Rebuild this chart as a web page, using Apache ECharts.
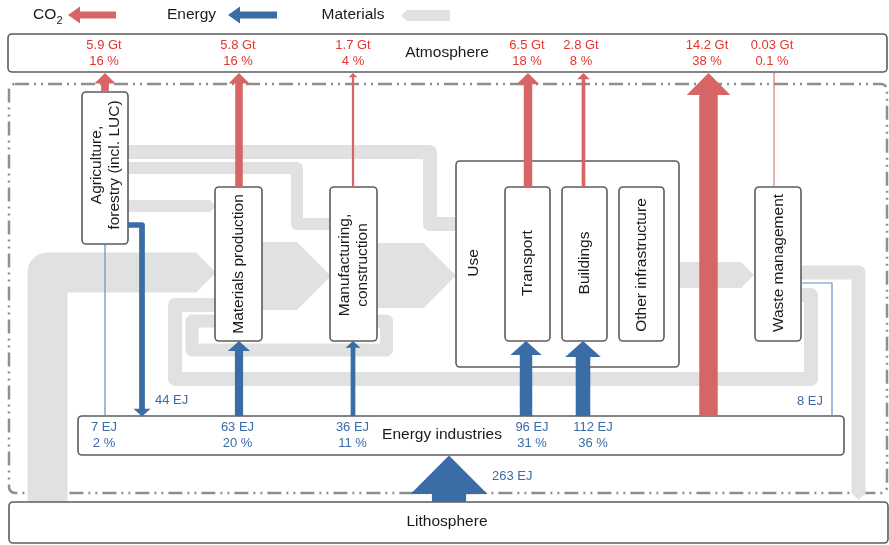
<!DOCTYPE html>
<html><head><meta charset="utf-8">
<script src="https://cdn.jsdelivr.net/npm/echarts@6/dist/echarts.min.js"></script>
<style>html,body{margin:0;padding:0;background:#fff}#c{width:889px;height:545px}</style>
</head><body><div id="c"></div>
<script>
// ---------------- data ----------------
const legendItems = ['CO2', 'Energy', 'Materials'];
const co2Sources = ['Agriculture, forestry (incl. LUC)', 'Materials production', 'Manufacturing, construction', 'Transport', 'Buildings', 'Energy industries', 'Waste management'];
const co2Gt = [5.9, 5.8, 1.7, 6.5, 2.8, 14.2, 0.03];
const co2Share = ['16 %', '16 %', '4 %', '18 %', '8 %', '38 %', '0.1 %'];
const energyTargets = ['Agriculture, forestry (incl. LUC)', 'Materials production', 'Manufacturing, construction', 'Transport', 'Buildings'];
const energyEJ = [7, 63, 36, 96, 112];
const energyShare = ['2 %', '20 %', '11 %', '31 %', '36 %'];
const energyReturnSources = ['Agriculture, forestry (incl. LUC)', 'Waste management'];
const energyReturnEJ = [44, 8];
const primaryEnergyEJ = 263;
const materialFlows = ['Lithosphere → Materials production', 'Materials production → Manufacturing, construction', 'Manufacturing, construction → Use', 'Use → Waste management', 'Waste management → Lithosphere', 'Waste management → Materials production', 'Manufacturing, construction → Materials production', 'Agriculture → Use', 'Agriculture → Manufacturing, construction', 'Agriculture → Materials production'];
const materialSize = [40, 68, 65, 26, 14, 14, 13, 14, 12, 12]; // relative magnitudes (estimated)
const nodeNames = ['Atmosphere', 'Lithosphere', 'Energy industries', 'Agriculture, forestry (incl. LUC)', 'Materials production', 'Manufacturing, construction', 'Use', 'Transport', 'Buildings', 'Other infrastructure', 'Waste management'];

// ---------------- layout & style ----------------
const FONT = '"Liberation Sans", Arial, Helvetica, sans-serif';
const COL = {red: '#d86565', blue: '#3a6ca6', blueThin: '#6090c6', grey: '#e1e1e1', redText: '#e4352f', blueText: '#3b6ba8', box: '#5c5c5c', text: '#1a1a1a'};
const BOX = {
  'Atmosphere': {r: [8, 34, 879, 38], t: 'Atmosphere', c: [447, 53], rot: 0},
  'Lithosphere': {r: [9, 502, 879, 41], t: 'Lithosphere', c: [447, 522], rot: 0},
  'Energy industries': {r: [78, 416, 766, 39], t: 'Energy industries', c: [442, 435], rot: 0},
  'Agriculture, forestry (incl. LUC)': {r: [82, 92, 46, 152], t: 'Agriculture,\nforestry (incl. LUC)', c: [106, 165], rot: 1},
  'Materials production': {r: [215, 187, 47, 154], t: 'Materials production', c: [239, 264], rot: 1},
  'Manufacturing, construction': {r: [330, 187, 47, 154], t: 'Manufacturing,\nconstruction', c: [354, 265], rot: 1},
  'Use': {r: [456, 161, 223, 206], t: 'Use', c: [474, 263], rot: 1},
  'Transport': {r: [505, 187, 45, 154], t: 'Transport', c: [528, 263], rot: 1},
  'Buildings': {r: [562, 187, 45, 154], t: 'Buildings', c: [585, 263], rot: 1},
  'Other infrastructure': {r: [619, 187, 45, 154], t: 'Other infrastructure', c: [642, 265], rot: 1},
  'Waste management': {r: [755, 187, 46, 154], t: 'Waste management', c: [779, 263], rot: 1}
};
const CO2_X = [105, 239, 353, 528, 583.5, 708.5, 774];
const CO2_TAIL = [92, 187, 187, 187, 187, 416, 187];
const CO2_LX = [104, 238, 353, 527, 581, 707, 772];
const EN_X = [105, 239, 353, 526, 583];
const EN_TIP = [244, 341, 341, 341, 341];
const EN_LX = [104, 237.5, 352.5, 532, 593];
const EXTRA = [
  {pts: [[128, 225], [142, 225], [142, 416.5]], lab: [155, 400], align: 'left', thin: false},
  {pts: [[801, 283], [832, 283], [832, 416.5]], lab: [823, 401], align: 'right', thin: true},
  {pts: [[449, 502], [449, 455.5]], lab: [492, 476], align: 'left', thin: false}
];
const FLOW_PATH = [
  {pts: [[47.5, 502], [47.5, 272.5], [216, 272.5]], tip: true},
  {pts: [[262, 276], [331, 276]], tip: true},
  {pts: [[377, 275.5], [456, 275.5]], tip: true},
  {pts: [[679, 275], [754, 275]], tip: true},
  {pts: [[801, 272.5], [858.5, 272.5], [858.5, 500]], tip: true},
  {pts: [[801, 295], [811, 295], [811, 379], [175, 379], [175, 305], [216, 305]], tip: false},
  {pts: [[377, 321], [386.5, 321], [386.5, 350], [192, 350], [192, 321], [216, 321]], tip: false},
  {pts: [[128, 152], [430, 152], [430, 224], [457, 224]], tip: false},
  {pts: [[128, 168], [297, 168], [297, 224], [331, 224]], tip: false},
  {pts: [[128, 206], [216, 206]], tip: true}
];
const redW = v => Math.max(1, v * 1.3);
const blueW = v => Math.max(1.2, v * 0.13);
const headW = w => 2.1 * w + 5 * Math.min(1, Math.max(0, w - 1) / 1.5);
const headL = hw => hw * 0.5;

function txt(x, y, text, size, fill, align, rot, lh) {
  return {type: 'text', x: x, y: y, rotation: rot ? Math.PI / 2 : 0,
    style: {text: text, font: size + 'px ' + FONT, fill: fill, align: align || 'center', verticalAlign: 'middle', lineHeight: lh || size * 1.2}};
}
function arrowEls(api, pts, w, hw, hl, color) {
  const P = pts.map(p => api.coord(p));
  const n = P.length, e = P[n - 1], s = P[n - 2];
  let dx = e[0] - s[0], dy = e[1] - s[1];
  const L = Math.hypot(dx, dy); dx /= L; dy /= L;
  const bx = e[0] - dx * hl, by = e[1] - dy * hl, nx = -dy, ny = dx;
  const line = P.slice(0, n - 1).concat([[bx + dx * 0.6, by + dy * 0.6]]);
  return [
    {type: 'polyline', shape: {points: line}, style: {stroke: color, lineWidth: w, fill: null, lineJoin: 'round', lineCap: 'butt'}},
    {type: 'polygon', shape: {points: [[bx + nx * hw / 2, by + ny * hw / 2], [e[0], e[1]], [bx - nx * hw / 2, by - ny * hw / 2]]}, style: {fill: color}}
  ];
}

const chart = echarts.init(document.getElementById('c'));
const option = {
  animation: false,
  grid: {left: 0, right: 0, top: 0, bottom: 0},
  xAxis: {type: 'value', min: 0, max: 889, show: false},
  yAxis: {type: 'value', min: 0, max: 545, inverse: true, show: false},
  series: [
    { // system boundary
      type: 'custom', z: 1, data: [[0, 0]],
      renderItem: (p, api) => {
        const a = api.coord([9, 84]), b = api.coord([887, 493]);
        return {type: 'rect', shape: {x: a[0], y: a[1], width: b[0] - a[0], height: b[1] - a[1], r: 6},
          style: {fill: null, stroke: '#8e8e8e', lineWidth: 2.5, lineDash: [14, 5, 2, 5, 2, 5]}};
      }
    },
    { // material flows
      type: 'custom', z: 2, name: 'Materials', data: materialSize.map((v, i) => [i, v]),
      renderItem: (p, api) => {
        const f = FLOW_PATH[p.dataIndex], w = api.value(1);
        if (f.tip) return {type: 'group', children: arrowEls(api, f.pts, w, w, w / 2, COL.grey)};
        return {type: 'polyline', shape: {points: f.pts.map(q => api.coord(q))},
          style: {stroke: COL.grey, lineWidth: w, fill: null, lineJoin: 'round', lineCap: 'butt'}};
      }
    },
    { // boxes
      type: 'custom', z: 3, data: nodeNames.map((n, i) => [i, 0]),
      renderItem: (p, api) => {
        const b = BOX[nodeNames[p.dataIndex]];
        const a = api.coord([b.r[0], b.r[1]]), c = api.coord([b.r[0] + b.r[2], b.r[1] + b.r[3]]);
        const cc = api.coord(b.c);
        return {type: 'group', children: [
          {type: 'rect', shape: {x: a[0], y: a[1], width: c[0] - a[0], height: c[1] - a[1], r: 4},
            style: {fill: '#fff', stroke: COL.box, lineWidth: 1.6}},
          txt(cc[0], cc[1], b.t, 15.5, COL.text, 'center', b.rot, 18)
        ]};
      }
    },
    { // CO2 flows
      type: 'custom', z: 4, name: 'CO2', data: co2Gt.map((v, i) => [i, v]),
      renderItem: (p, api) => {
        const i = p.dataIndex, v = api.value(1), w = redW(v), hw = headW(w);
        const els = arrowEls(api, [[CO2_X[i], CO2_TAIL[i]], [CO2_X[i], 73]], w, hw, headL(hw), COL.red);
        const l1 = api.coord([CO2_LX[i], 45]), l2 = api.coord([CO2_LX[i], 61]);
        els.push(txt(l1[0], l1[1], v + ' Gt', 13, COL.redText));
        els.push(txt(l2[0], l2[1], co2Share[i], 13, COL.redText));
        return {type: 'group', children: els};
      }
    },
    { // energy flows to sectors
      type: 'custom', z: 5, name: 'Energy', data: energyEJ.map((v, i) => [i, v]),
      renderItem: (p, api) => {
        const i = p.dataIndex, v = api.value(1), w = blueW(v), hw = headW(w);
        const els = arrowEls(api, [[EN_X[i], 416], [EN_X[i], EN_TIP[i]]], w, hw, headL(hw) * 0.9, v < 10 ? COL.blueThin : COL.blue);
        const l1 = api.coord([EN_LX[i], 427]), l2 = api.coord([EN_LX[i], 443]);
        els.push(txt(l1[0], l1[1], v + ' EJ', 13, COL.blueText));
        els.push(txt(l2[0], l2[1], energyShare[i], 13, COL.blueText));
        return {type: 'group', children: els};
      }
    },
    { // energy returns and primary energy
      type: 'custom', z: 5, data: energyReturnEJ.concat([primaryEnergyEJ]).map((v, i) => [i, v]),
      renderItem: (p, api) => {
        const i = p.dataIndex, v = api.value(1), w = blueW(v), hw = headW(w), e = EXTRA[i];
        const els = arrowEls(api, e.pts, w, hw, headL(hw) * (v > 200 ? 1 : 0.9), e.thin ? COL.blueThin : COL.blue);
        const l = api.coord(e.lab);
        els.push(txt(l[0], l[1], v + ' EJ', 13, COL.blueText, e.align));
        return {type: 'group', children: els};
      }
    },
    { // legend
      type: 'custom', z: 6, data: legendItems.map((n, i) => [i, 0]),
      renderItem: (p, api) => {
        const i = p.dataIndex, els = [];
        if (i === 0) {
          const a = api.coord([33, 15]), b = api.coord([56.5, 21]);
          els.push(txt(a[0], a[1], 'CO', 15.5, COL.text, 'left'));
          els.push(txt(b[0], b[1], '2', 11, COL.text, 'left'));
          els.push(...arrowEls(api, [[116, 15], [68, 15]], 7, 17, 12, COL.red));
        } else if (i === 1) {
          const a = api.coord([191.5, 15]);
          els.push(txt(a[0], a[1], 'Energy', 15.5, COL.text));
          els.push(...arrowEls(api, [[277, 15], [228, 15]], 7, 17, 12, COL.blue));
        } else {
          const a = api.coord([353, 15]);
          els.push(txt(a[0], a[1], 'Materials', 15.5, COL.text));
          els.push(...arrowEls(api, [[450, 15.5], [401, 15.5]], 11, 11, 6, COL.grey));
        }
        return {type: 'group', children: els};
      }
    }
  ]
};
chart.setOption(option);
</script>
</body></html>
